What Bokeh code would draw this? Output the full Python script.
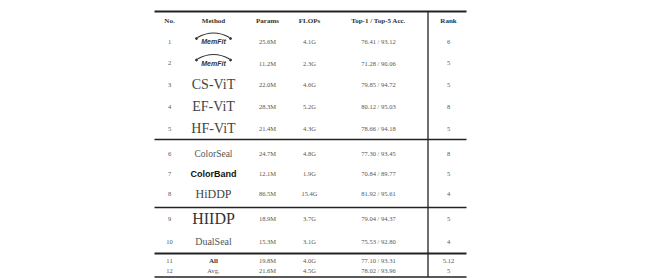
from bokeh.plotting import figure
from bokeh.models import Range1d, ColumnDataSource
from bokeh.core.properties import value
from bokeh.embed import file_html
from bokeh.resources import INLINE

# ---------------- data ----------------
headers = ["No.", "Method", "Params", "FLOPs", "Top-1 / Top-5 Acc.", "Rank"]
ids = ["1", "2", "3", "4", "5", "6", "7", "8", "9", "10", "11", "12"]
methods = ["MemFit", "MemFit", "CS-ViT", "EF-ViT", "HF-ViT", "ColorSeal", "ColorBand",
           "HiDDP", "HIIDP", "DualSeal", "All", "Avg."]
params = ["25.6M", "11.2M", "22.0M", "28.3M", "21.4M", "24.7M", "12.1M", "86.5M",
          "18.9M", "15.3M", "19.8M", "21.6M"]
flops = ["4.1G", "2.3G", "4.6G", "5.2G", "4.3G", "4.8G", "1.9G", "15.4G",
         "3.7G", "3.1G", "4.0G", "4.5G"]
accs = ["76.41 / 93.12", "71.28 / 90.06", "79.85 / 94.72", "80.12 / 95.03", "78.66 / 94.18",
        "77.30 / 93.45", "70.84 / 89.77", "81.92 / 95.61", "79.04 / 94.37", "75.53 / 92.80",
        "77.10 / 93.31", "78.02 / 93.96"]
ranks = ["6", "5", "5", "8", "5", "8", "5", "4", "5", "4", "5.12", "5"]

# ---------------- layout (style) ----------------
W, H = 644, 278
x_left, x_right = 154, 466
x_sep = 427.5
col_x = [169, 213, 267, 309, 378, 448]
top = 11
header_h = 19
groups = [  # (pad_top, row heights, pad_bottom)
    (0, [22, 21, 22, 22, 22], 0),
    (4, [20, 20, 20], 4),
    (0, [22, 24], 0),
    (2, [10, 10], 1.5),
]
rule_w = [2.0, 1.5, 1.5, 2.0, 1.5]

row_y = []
rules = [top]
y = top + header_h
header_y = top + header_h / 2
for pad_t, hs, pad_b in groups:
    y += pad_t
    for h in hs:
        row_y.append(y + h / 2)
        y += h
    y += pad_b
    rules.append(y)

p = figure(width=W, height=H, output_backend="svg", toolbar_location=None,
           x_range=Range1d(0, W), y_range=Range1d(H, 0),
           min_border=0, outline_line_color=None)
p.axis.visible = False
p.grid.visible = False
p.background_fill_color = "white"
p.border_fill_color = "white"

serif = value("Liberation Serif")
sans = value("Liberation Sans")

# rules
for r, w in zip(rules, rule_w):
    p.segment(x0=[x_left], y0=[r], x1=[x_right], y1=[r], line_color="#222", line_width=w)
p.segment(x0=[x_sep], y0=[rules[0]], x1=[x_sep], y1=[rules[-1]], line_color="#222", line_width=1.3)

# header
p.text(x=col_x, y=[header_y] * len(headers), text=headers, text_font=serif,
       text_font_size="7px", text_font_style="bold", text_align="center",
       text_baseline="middle", text_color="#333")

# small columns
small_cols = [(0, ids), (2, params), (3, flops), (4, accs), (5, ranks)]
for ci, vals in small_cols:
    src = ColumnDataSource(dict(x=[col_x[ci]] * len(vals), y=row_y, t=vals))
    p.text(x="x", y="y", text="t", source=src, text_font=serif, text_font_size="6.5px",
           text_align="center", text_baseline="middle", text_color="#555")

# method names, styled per row
styles = [
    ("7px", "bold italic", sans, "#333"),
    ("7px", "bold italic", sans, "#333"),
    ("14px", "normal", serif, "#444"),
    ("14px", "normal", serif, "#444"),
    ("14px", "normal", serif, "#444"),
    ("9.5px", "normal", serif, "#555"),
    ("9px", "bold", sans, "#111"),
    ("12px", "normal", serif, "#444"),
    ("16px", "normal", serif, "#333"),
    ("10px", "normal", serif, "#555"),
    ("7px", "bold", serif, "#333"),
    ("6.5px", "normal", serif, "#555"),
]
for i, (m, (fs, st, fnt, col)) in enumerate(zip(methods, styles)):
    p.text(x=[col_x[1]], y=[row_y[i]], text=[m], text_font=fnt, text_font_size=fs,
           text_font_style=st, text_align="center", text_baseline="middle", text_color=col)

# logo arcs for the first two rows
for i in range(2):
    p.quadratic(x0=[col_x[1] - 16], y0=[row_y[i] - 4], x1=[col_x[1] + 16], y1=[row_y[i] - 4],
                cx=[col_x[1]], cy=[row_y[i] - 13], line_color="#333", line_width=1.2)
    p.scatter(x=[col_x[1] - 17, col_x[1] + 17], y=[row_y[i] - 3, row_y[i] - 3],
              size=2, color="#333")

open("out.html", "w").write(file_html(p, INLINE))
